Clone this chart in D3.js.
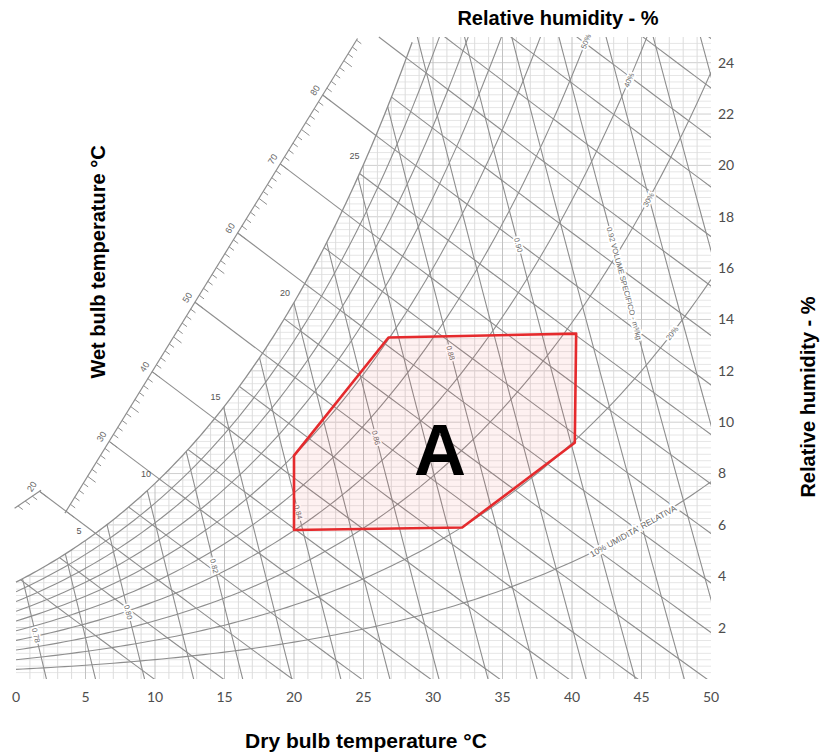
<!DOCTYPE html>
<html>
<head>
<meta charset="utf-8">
<script src="https://d3js.org/d3.v7.min.js"></script>
<style>
  body { margin: 0; background: #fff; }
  svg { display: block; }
</style>
</head>
<body>
<svg id="chart"></svg>
<script>
// axis ticks
const dryBulbTicks = [0, 5, 10, 15, 20, 25, 30, 35, 40, 45, 50];
const humidityTicks = [2, 4, 6, 8, 10, 12, 14, 16, 18, 20, 22, 24];
// chart families
const rhCurves = [10, 20, 30, 40, 50, 60, 70, 80, 90];
const enthalpyLines = [10, 15, 20, 25, 30, 35, 40, 45, 50, 55, 60, 65, 70, 75, 80, 85, 90, 95, 100, 105, 110, 115];
const enthalpyLong = [20, 30, 40, 50, 60, 70, 80, 90];
const enthalpyScaleLabels = [30, 40, 50, 60, 70, 80];
const volumeLines = [0.78, 0.79, 0.80, 0.81, 0.82, 0.83, 0.84, 0.85, 0.86, 0.87, 0.88, 0.89, 0.90, 0.91, 0.92, 0.93, 0.94, 0.95];
const volumeLabelV = [0.78, 0.80, 0.82, 0.84, 0.86, 0.88, 0.90, 0.92];
const volumeLabelW = [1.7, 2.6, 4.4, 6.5, 9.4, 12.7, 16.9, 15.4];
const volumeLabelText = ['0.78', '0.80', '0.82', '0.84', '0.86', '0.88', '0.90', '0.92 VOLUME SPECIFICO - m³/kg'];
const rhLabelRH = [10, 20, 30, 40, 50];
const rhLabelT = [44.4, 47.2, 45.5, 44.1, 41.0];
const rhLabelText = ["10% UMIDITA' RELATIVA", '20%', '30%', '40%', '50%'];
const wetBulbLabels = [5, 10, 15, 20, 25];
// comfort zone A
const zoneT = [20.0, 26.8, 40.3, 40.2, 32.1, 20.0];
const zoneW = [8.7, 13.3, 13.45, 9.2, 5.9, 5.8];
const zoneLabel = { t: 30.5, w: 7.95, text: 'A' };

const width = 821;
const height = 754;
const P = 101.325;

// psychrometric helpers
const pws = t => 0.61094 * Math.exp(17.625 * t / (t + 243.04));
const wFromPw = pw => 622 * pw / (P - pw);
const wSat = t => wFromPw(pws(t));
const wRH = (t, rh) => wFromPw(rh / 100 * pws(t));
const dewT = w => {
    const pw = w * P / (622 + w);
    const a = Math.log(pw / 0.61094);
    return 243.04 * a / (17.625 - a);
};
const wEnth = (h, t) => 1000 * (h - 1.006 * t) / (2501 + 1.86 * t);
const enth = (t, w) => 1.006 * t + w / 1000 * (2501 + 1.86 * t);
const tVol = (v, w) => v * P / (0.287042 * (1 + 1.607858 * w / 1000)) - 273.15;

function solve(f, a, b) {
    let fa = f(a);
    for (let i = 0; i < 60; i++) {
        const m = (a + b) / 2, fm = f(m);
        if ((fm > 0) === (fa > 0)) { a = m; fa = fm; } else { b = m; }
    }
    return (a + b) / 2;
}

const x = d3.scaleLinear().domain([0, 50]).range([16, 711]);
const y = d3.scaleLinear().domain([0, 25]).range([679, 37]);

const svg = d3.select('#chart').attr('width', width).attr('height', height);
const line = d3.line().x(d => x(d[0])).y(d => y(d[1]));

const tTop = dewT(25);

// clip: box below saturation curve
const clipPts = d3.range(0, tTop, 0.25).map(t => [t, wSat(t)]);
clipPts.push([tTop, 25], [50, 25], [50, 0], [0, 0]);
svg.append('clipPath').attr('id', 'field')
    .append('path').attr('d', line(clipPts) + 'Z');

const field = svg.append('g').attr('clip-path', 'url(#field)');

// fine grid
field.selectAll('line.h').data(d3.range(0.25, 25, 0.25)).enter()
    .append('line')
    .attr('x1', x(0)).attr('x2', x(50))
    .attr('y1', d => y(d)).attr('y2', d => y(d))
    .attr('stroke', d => (Math.abs(d % 2) < 1e-6 ? '#cfcfcf' : '#e6e6e6'))
    .attr('stroke-width', 1);

field.selectAll('line.v').data(d3.range(1, 50, 1)).enter()
    .append('line')
    .attr('x1', d => x(d)).attr('x2', d => x(d))
    .attr('y1', y(0)).attr('y2', y(25))
    .attr('stroke', d => (d % 5 === 0 ? '#c2c2c2' : '#dcdcdc'))
    .attr('stroke-width', 1);

const lineColor = '#8e8e8e';

// relative humidity curves
field.selectAll('path.rh').data(rhCurves).enter()
    .append('path')
    .attr('d', rh => line(d3.range(0, 50.5, 0.5).map(t => [t, wRH(t, rh)])))
    .attr('fill', 'none').attr('stroke', lineColor).attr('stroke-width', 1.1);

// enthalpy lines
field.selectAll('path.h').data(enthalpyLines).enter()
    .append('path')
    .attr('d', h => line(d3.range(-5, 60, 1).map(t => [t, wEnth(h, t)])))
    .attr('fill', 'none').attr('stroke', lineColor).attr('stroke-width', 1.1);

// specific volume lines
field.selectAll('path.v').data(volumeLines).enter()
    .append('path')
    .attr('d', v => line(d3.range(-1, 27, 1).map(w => [tVol(v, w), w])))
    .attr('fill', 'none').attr('stroke', lineColor).attr('stroke-width', 1.1);

// saturation curve
svg.append('path')
    .attr('d', line(d3.range(0, tTop + 0.01, 0.25).map(t => [t, Math.min(25, wSat(t))])))
    .attr('fill', 'none').attr('stroke', lineColor).attr('stroke-width', 1.3);

// enthalpy scale (outside the saturation curve)
const scaleMain = [[3.52, 6.46], [24.57, 24.94]];
const scaleShort = [[-0.1, 6.65], [1.8, 7.35]];
const outside = svg.append('g');

function scalePoint(seg, h) {
    const f = s => enth(seg[0][0] + s * (seg[1][0] - seg[0][0]), seg[0][1] + s * (seg[1][1] - seg[0][1])) - h;
    if (f(0) > 0 || f(1) < 0) return null;
    const s = solve(f, 0, 1);
    return [seg[0][0] + s * (seg[1][0] - seg[0][0]), seg[0][1] + s * (seg[1][1] - seg[0][1])];
}

[scaleMain, scaleShort].forEach(seg => {
    outside.append('path').attr('d', line(seg))
        .attr('stroke', lineColor).attr('stroke-width', 1.2).attr('fill', 'none');
    const h0 = Math.ceil(enth(seg[0][0], seg[0][1]));
    const h1 = Math.floor(enth(seg[1][0], seg[1][1]));
    d3.range(h0, h1 + 1).forEach(h => {
        const p = scalePoint(seg, h);
        if (!p) return;
        const px = x(p[0]), py = y(p[1]);
        const dx = x(p[0] + 1) - px, dy = y(wEnth(h, p[0] + 1)) - py;
        const n = Math.hypot(dx, dy);
        const len = h % 5 === 0 ? 10 : 6;
        outside.append('line')
            .attr('x1', px).attr('y1', py)
            .attr('x2', px + dx / n * len).attr('y2', py + dy / n * len)
            .attr('stroke', lineColor).attr('stroke-width', 1);
    });
});

// long enthalpy lines from the scale down to the saturation curve
enthalpyLong.forEach(h => {
    const tS = solve(t => wEnth(h, t) - wSat(t), -20, 60);
    let start = (h <= 20 ? scalePoint(scaleShort, h) : null) || scalePoint(scaleMain, h);
    if (!start) {
        const t = (h - 0.025 * 2501) / (1.006 + 0.025 * 1.86);
        start = [t, 25];
    }
    outside.append('path')
        .attr('d', line([start, [tS, wEnth(h, tS)]]))
        .attr('stroke', lineColor).attr('stroke-width', 1.1);
});

const scaleAngle = Math.atan2(y(scaleMain[1][1]) - y(scaleMain[0][1]), x(scaleMain[1][0]) - x(scaleMain[0][0])) * 180 / Math.PI;
const labelScale = (seg, h) => {
    const p = scalePoint(seg, h);
    const rad = scaleAngle * Math.PI / 180;
    const nx = Math.sin(rad), ny = -Math.cos(rad);
    const lx = x(p[0]) + nx * 9, ly = y(p[1]) + ny * 9;
    outside.append('text')
        .attr('transform', `translate(${lx},${ly}) rotate(${scaleAngle})`)
        .attr('text-anchor', 'middle').attr('dy', '0.35em')
        .attr('font-family', 'Liberation Sans, Arial, sans-serif')
        .attr('font-size', '9px').attr('fill', '#666')
        .text(h);
};
enthalpyScaleLabels.forEach(h => labelScale(scaleMain, h));
labelScale(scaleShort, 20);

// wet bulb labels on the saturation curve
outside.selectAll('text.wb').data(wetBulbLabels).enter()
    .append('text')
    .attr('x', t => x(t) - 4)
    .attr('y', t => y(wSat(t)) - 6)
    .attr('text-anchor', 'end')
    .attr('font-family', 'Liberation Sans, Arial, sans-serif')
    .attr('font-size', '9px').attr('fill', '#555')
    .text(t => t);

const halo = (sel, size) => sel
    .attr('font-family', 'Liberation Sans, Arial, sans-serif')
    .attr('font-size', size || '7.5px').attr('fill', '#666')
    .attr('stroke', '#fff').attr('stroke-width', 3.5)
    .attr('paint-order', 'stroke')
    .attr('text-anchor', 'middle').attr('dy', '0.35em');

// volume labels
volumeLabelV.forEach((v, i) => {
    const w = volumeLabelW[i];
    const t = tVol(v, w);
    const ang = Math.atan2(y(w - 0.5) - y(w + 0.5), x(tVol(v, w - 0.5)) - x(tVol(v, w + 0.5))) * 180 / Math.PI;
    svg.append('text')
        .attr('transform', `translate(${x(t)},${y(w)}) rotate(${ang})`)
        .call(halo, '7.5px')
        .text(volumeLabelText[i]);
});

// relative humidity labels
rhLabelRH.forEach((rh, i) => {
    const t = rhLabelT[i];
    const ang = Math.atan2(y(wRH(t + 0.3, rh)) - y(wRH(t - 0.3, rh)), x(t + 0.3) - x(t - 0.3)) * 180 / Math.PI;
    svg.append('text')
        .attr('transform', `translate(${x(t)},${y(wRH(t, rh))}) rotate(${ang})`)
        .call(halo, i === 0 ? '8.5px' : '7.5px')
        .text(rhLabelText[i]);
});

// zone A
const zone = zoneT.map((t, i) => [t, zoneW[i]]);
svg.append('path')
    .attr('d', d3.line().x(d => x(d[0])).y(d => y(d[1])).curve(d3.curveLinearClosed)(zone))
    .attr('fill', 'rgba(235, 60, 60, 0.07)')
    .attr('stroke', '#e52a2d').attr('stroke-width', 2.6)
    .attr('stroke-linejoin', 'round');

svg.append('text')
    .attr('x', x(zoneLabel.t))
    .attr('y', y(zoneLabel.w))
    .attr('text-anchor', 'middle')
    .attr('font-family', 'Liberation Sans, Arial, sans-serif')
    .attr('font-weight', 'bold').attr('font-size', '72px')
    .attr('fill', '#000')
    .text(zoneLabel.text);

// tick labels
svg.selectAll('text.xt').data(dryBulbTicks).enter()
    .append('text')
    .attr('x', d => x(d)).attr('y', 702)
    .attr('text-anchor', 'middle')
    .attr('font-family', 'Lato, Open Sans, sans-serif')
    .attr('font-size', '14px').attr('fill', '#4d4d4d')
    .text(d => d);

svg.selectAll('text.yt').data(humidityTicks).enter()
    .append('text')
    .attr('x', 718).attr('y', d => y(d))
    .attr('dy', '0.35em')
    .attr('font-family', 'Lato, Open Sans, sans-serif')
    .attr('font-size', '14px').attr('fill', '#4d4d4d')
    .text(d => d);

// titles
const title = (sel, size) => sel
    .attr('font-family', 'Liberation Sans, Arial, sans-serif')
    .attr('font-weight', 'bold').attr('font-size', size)
    .attr('fill', '#000').attr('text-anchor', 'middle');

svg.append('text').attr('x', 558).attr('y', 25).call(title, '20px').text('Relative humidity - %');
svg.append('text').attr('x', 366).attr('y', 748).call(title, '21px').text('Dry bulb temperature °C');
svg.append('text').attr('transform', 'translate(105,262) rotate(-90)').call(title, '20px').text('Wet bulb temperature °C');
svg.append('text').attr('transform', 'translate(815,397) rotate(-90)').call(title, '20px').text('Relative humidity - %');
</script>
</body>
</html>
